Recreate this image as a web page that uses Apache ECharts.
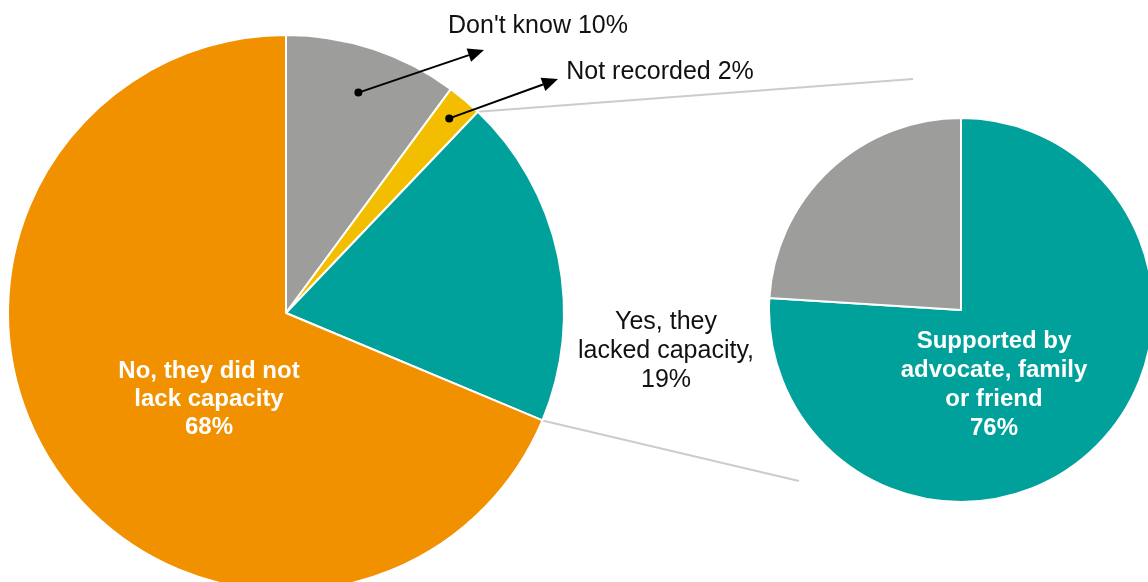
<!DOCTYPE html>
<html><head><meta charset="utf-8">
<script src="https://cdn.jsdelivr.net/npm/echarts@6/dist/echarts.min.js"></script>
<style>html,body{margin:0;padding:0;background:#fff}#c{width:1148px;height:582px}</style>
</head><body><div id="c"></div>
<script>
// ---- data ----
const mainCategories = ["Don't know", "Not recorded", "Yes, they lacked capacity", "No, they did not lack capacity"];
const mainValues = [10, 2, 19, 68];
const mainLabelTemplates = ["Don't know {v}%", "Not recorded {v}%", "Yes, they\nlacked capacity,\n{v}%", "No, they did not\nlack capacity\n{v}%"];
const subCategories = ["Supported by advocate, family or friend", "Not supported"];
const subValues = [76, 24];
const subLabelTemplates = ["Supported by\nadvocate, family\nor friend\n{v}%", ""];

// ---- styles / layout ----
const mainColors = ['#9d9d9c', '#f4be00', '#00a19a', '#f29100'];
const subColors = ['#00a19a', '#9d9d9c'];
const FONT = '"Liberation Sans", Arial, Helvetica, sans-serif';
const C1 = [286, 313], R1 = 278;
const C2 = [961, 310], R2 = 192;
// label anchor positions (layout)
const mainLabelPos = [[538, 26], [660, 72], [666, 351], [209, 399]];
const subLabelPos = [[994, 385], [0, 0]];
// arrows: dot distance from center, and arrow tip
const arrowDotDist = [232, 254];
const arrowTips = [[484, 50], [558, 79]];
// connector end points
const connEnds = [[913, 79], [799, 481]];

const sum = mainValues.reduce((a, b) => a + b, 0);
function cumFrac(i) { let s = 0; for (let k = 0; k < i; k++) s += mainValues[k]; return s / sum; }
function polar(c, r, frac) { const a = frac * 2 * Math.PI; return [c[0] + r * Math.sin(a), c[1] - r * Math.cos(a)]; }

const chart = echarts.init(document.getElementById('c'), null, {renderer: 'canvas'});

const mainData = mainCategories.map((n, i) => {
  const inside = i === 3;
  return {
    name: n, value: mainValues[i],
    itemStyle: {color: mainColors[i]},
    label: {
      show: true,
      formatter: mainLabelTemplates[i].replace('{v}', mainValues[i]),
      color: inside ? '#fff' : '#111',
      fontWeight: inside ? 'bold' : 'normal',
      fontSize: inside ? 24 : 25,
      lineHeight: inside ? 28 : 29,
      fontFamily: FONT,
      align: 'center'
    },
    labelLine: {show: false}
  };
});
const subData = subCategories.map((n, i) => ({
  name: n, value: subValues[i],
  itemStyle: {color: subColors[i]},
  label: {
    show: i === 0,
    formatter: subLabelTemplates[i].replace('{v}', subValues[i]),
    color: '#fff', fontWeight: 'bold', fontSize: 24, lineHeight: 29,
    fontFamily: FONT, align: 'center'
  },
  labelLine: {show: false}
}));

// graphics: connectors and arrows
const graphics = [];
const connStarts = [polar(C1, R1, cumFrac(2)), polar(C1, R1, cumFrac(3))];
connStarts.forEach((s, i) => {
  graphics.push({type: 'line', silent: true, z: -1,
    shape: {x1: s[0], y1: s[1], x2: connEnds[i][0], y2: connEnds[i][1]},
    style: {stroke: '#cccccc', lineWidth: 2}});
});
[0, 1].forEach(i => {
  const mid = cumFrac(i) + mainValues[i] / sum / 2;
  const d = polar(C1, arrowDotDist[i], mid);
  const t = arrowTips[i];
  const dx = t[0] - d[0], dy = t[1] - d[1];
  const L = Math.hypot(dx, dy), ux = dx / L, uy = dy / L;
  const hl = 16, hw = 7;
  const bx = t[0] - ux * hl, by = t[1] - uy * hl;
  graphics.push({type: 'line', z: 10, shape: {x1: d[0], y1: d[1], x2: bx, y2: by}, style: {stroke: '#000', lineWidth: 2}});
  graphics.push({type: 'polygon', z: 10, shape: {points: [[t[0], t[1]], [bx - uy * hw, by + ux * hw], [bx + uy * hw, by - ux * hw]]}, style: {fill: '#000'}});
  graphics.push({type: 'circle', z: 10, shape: {cx: d[0], cy: d[1], r: 4}, style: {fill: '#000'}});
});

chart.setOption({
  animation: false,
  backgroundColor: '#fff',
  graphic: graphics,
  series: [
    {
      type: 'pie', center: C1, radius: R1, startAngle: 90, clockwise: true,
      itemStyle: {borderColor: '#fff', borderWidth: 2},
      label: {position: 'inside'},
      labelLayout: p => ({x: mainLabelPos[p.dataIndex][0], y: mainLabelPos[p.dataIndex][1], align: 'center', verticalAlign: 'middle'}),
      emphasis: {disabled: true},
      data: mainData
    },
    {
      type: 'pie', center: C2, radius: R2, startAngle: 90, clockwise: true,
      itemStyle: {borderColor: '#fff', borderWidth: 2},
      label: {position: 'inside'},
      labelLayout: p => ({x: subLabelPos[p.dataIndex][0], y: subLabelPos[p.dataIndex][1], align: 'center', verticalAlign: 'middle'}),
      emphasis: {disabled: true},
      data: subData
    }
  ]
});
</script>
</body></html>
